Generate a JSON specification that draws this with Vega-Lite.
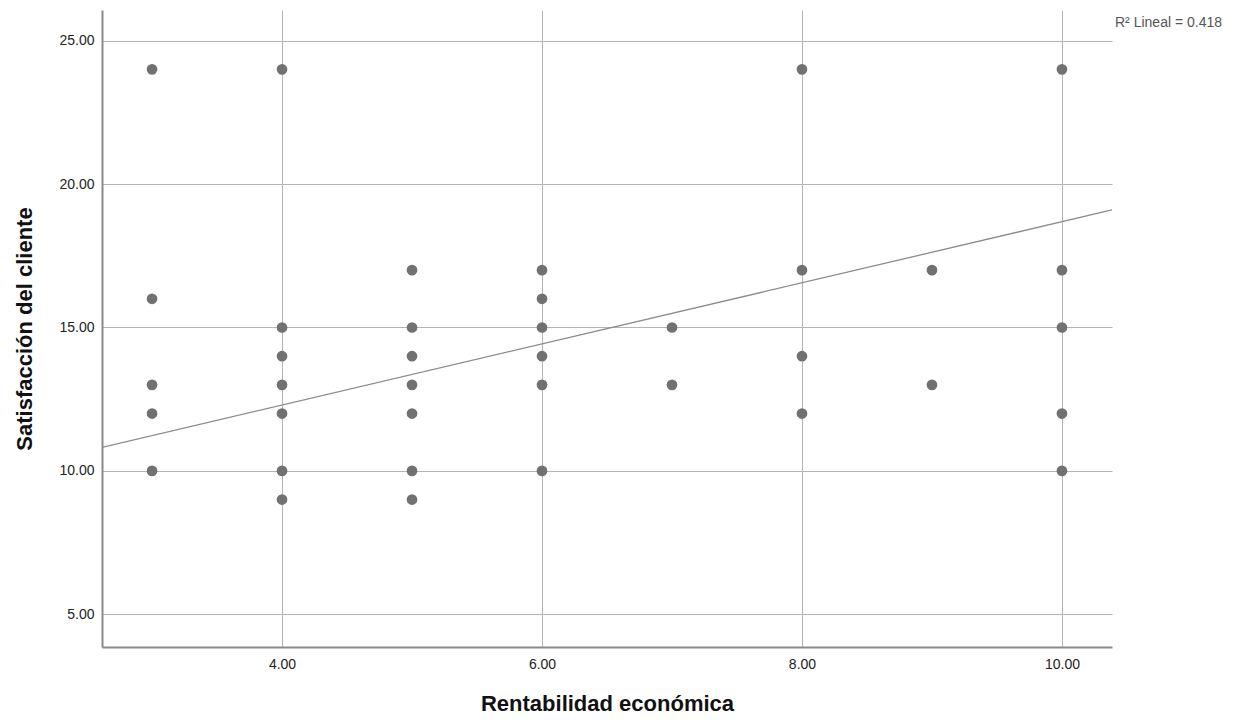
{
  "$schema": "https://vega.github.io/schema/vega-lite/v6.json",
  "autosize": "none",
  "width": 1010,
  "height": 637,
  "padding": {"left": 102, "top": 10, "right": 144, "bottom": 75},
  "background": "white",
  "config": {"view": {"stroke": null}, "font": "Liberation Sans"},
  "datasets": {
    "pts": [
      {"re": 3, "sc": 24}, {"re": 3, "sc": 16}, {"re": 3, "sc": 13}, {"re": 3, "sc": 12}, {"re": 3, "sc": 10},
      {"re": 4, "sc": 24}, {"re": 4, "sc": 15}, {"re": 4, "sc": 14}, {"re": 4, "sc": 13}, {"re": 4, "sc": 12}, {"re": 4, "sc": 10}, {"re": 4, "sc": 9},
      {"re": 5, "sc": 17}, {"re": 5, "sc": 15}, {"re": 5, "sc": 14}, {"re": 5, "sc": 13}, {"re": 5, "sc": 12}, {"re": 5, "sc": 10}, {"re": 5, "sc": 9},
      {"re": 6, "sc": 17}, {"re": 6, "sc": 16}, {"re": 6, "sc": 15}, {"re": 6, "sc": 14}, {"re": 6, "sc": 13}, {"re": 6, "sc": 10},
      {"re": 7, "sc": 15}, {"re": 7, "sc": 13},
      {"re": 8, "sc": 24}, {"re": 8, "sc": 17}, {"re": 8, "sc": 14}, {"re": 8, "sc": 12},
      {"re": 9, "sc": 17}, {"re": 9, "sc": 13},
      {"re": 10, "sc": 24}, {"re": 10, "sc": 17}, {"re": 10, "sc": 15}, {"re": 10, "sc": 12}, {"re": 10, "sc": 10}
    ],
    "fit": [{"re": 2.615, "sc": 10.82}, {"re": 10.385, "sc": 19.1}],
    "lab": [{"re": 10.385, "sc": 26.07, "t": "R² Lineal = 0.418"}]
  },
  "encoding": {
    "x": {
      "field": "re", "type": "quantitative",
      "scale": {"domain": [2.615, 10.385], "nice": false, "zero": false},
      "axis": {
        "title": "Rentabilidad económica", "values": [4, 6, 8, 10], "format": ".2f",
        "grid": true, "gridColor": "#b4b4b4", "gridWidth": 1,
        "domainColor": "#8a8a8a", "domainWidth": 2, "ticks": false,
        "labelFontSize": 14, "labelColor": "#222222", "labelPadding": 10,
        "titleFontSize": 22, "titleFontWeight": "bold", "titleColor": "#111111", "titlePadding": 22
      }
    },
    "y": {
      "field": "sc", "type": "quantitative",
      "scale": {"domain": [3.86, 26.07], "nice": false, "zero": false},
      "axis": {
        "title": "Satisfacción del cliente", "values": [5, 10, 15, 20, 25], "format": ".2f",
        "grid": true, "gridColor": "#b4b4b4", "gridWidth": 1,
        "domainColor": "#8a8a8a", "domainWidth": 2, "ticks": false,
        "labelFontSize": 14, "labelColor": "#222222", "labelPadding": 8,
        "titleFontSize": 22, "titleFontWeight": "bold", "titleColor": "#111111", "titlePadding": 22
      }
    }
  },
  "layer": [
    {
      "data": {"name": "fit"},
      "mark": {"type": "line", "color": "#8c8c8c", "strokeWidth": 1.3, "clip": true}
    },
    {
      "data": {"name": "pts"},
      "mark": {"type": "circle", "size": 115, "color": "#717171", "opacity": 1}
    },
    {
      "data": {"name": "lab"},
      "mark": {"type": "text", "align": "left", "baseline": "middle", "dx": 3, "dy": 13, "fontSize": 14, "color": "#555555"},
      "encoding": {"text": {"field": "t"}}
    }
  ]
}
